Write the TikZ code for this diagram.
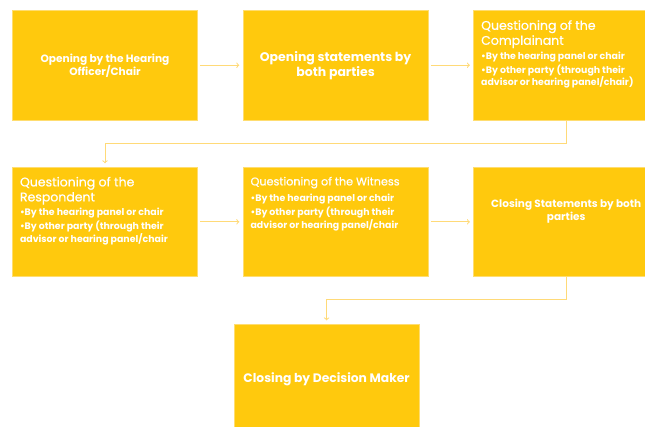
\documentclass[tikz,border=0pt]{standalone}
\usepackage{fontspec}
\newfontfamily\poppins{Poppins}
\newfontfamily\poppinshead[FakeBold=0.6]{Poppins}
\usepackage{tikz}
\usetikzlibrary{positioning}

\definecolor{boxgold}{HTML}{FFC90D}
\definecolor{boxedge}{HTML}{FFDD70}
\definecolor{flowline}{HTML}{FFDA78}

\newcommand{\hearitem}[1]{\par\vspace{2.5pt}\hangindent=3.5pt\hangafter=1\noindent\textbullet#1}
\newcommand{\hearhead}[1]{{\poppinshead\fontsize{12.5}{15}\selectfont #1\par}\vspace{0.5pt}\fontsize{9.4}{11.5}\selectfont\bfseries}

\begin{document}
\begin{tikzpicture}[x=1pt,y=1pt,node distance=45pt,
    stepbox/.style={rectangle,draw=boxedge,line width=0.6pt,fill=boxgold,text=white,
      minimum width=185pt,minimum height=109.5pt,inner sep=0pt,font=\poppins},
    flow/.style={draw=flowline,line width=1pt,-to,shorten <=2.5pt,shorten >=3.5pt}]

  \useasboundingbox (0,0) rectangle (645,-427);
  \clip (0,0) rectangle (645,-427);

  %first row%
  \node[stepbox,align=center,font=\poppins\bfseries\fontsize{10.6}{13}\selectfont] (open) at (105,-65.25)
    {Opening by the Hearing\\Officer/Chair};
  \node[stepbox,align=center,font=\poppins\bfseries\fontsize{12.5}{15}\selectfont] (stmt) [right=of open]
    {Opening statements by\\both parties};
  \node[stepbox] (compl) [right=of stmt]
    {\parbox[c][90pt][t]{170pt}{\raggedright\hearhead{Questioning of the\\Complainant}
     \hearitem{By the hearing panel or chair}
     \hearitem{By other party (through their\\advisor or hearing panel/chair)}}};

  %second row%
  \node[stepbox] (resp) [below=46.5pt of open]
    {\parbox[c][90pt][t]{170pt}{\raggedright\hearhead{Questioning of the\\Respondent}
     \hearitem{By the hearing panel or chair}
     \hearitem{By other party (through their\\advisor or hearing panel/chair}}};
  \node[stepbox] (wit) [right=of resp]
    {\parbox[c][90pt][t]{170pt}{\raggedright{\poppinshead\fontsize{11.2}{15}\selectfont Questioning of the Witness\par}\vspace{2.5pt}\fontsize{9.4}{11.5}\selectfont\bfseries
     \hearitem{By the hearing panel or chair}
     \hearitem{By other party (through their\\advisor or hearing panel/chair}}};
  \node[stepbox] (close) [right=of wit]
    {\parbox[c][90pt][t]{170pt}{\centering\vspace{22pt}\bfseries\fontsize{10.5}{13}\selectfont
     Closing Statements by both\\parties}};

  %last row%
  \node[stepbox,align=center,font=\poppins\bfseries\fontsize{12.3}{15}\selectfont] (dec) [below=47pt of wit,xshift=-9pt]
    {Closing by Decision Maker};

  \path[flow]
    (open) edge (stmt)
    (stmt) edge (compl)
    (resp) edge (wit)
    (wit) edge (close);
  \draw[flow,shorten <=0pt] (compl.south) -- ++(0,-23) -| (resp.north);
  \draw[flow,shorten <=0pt] (close.south) -- ++(0,-23) -| (dec.north);
\end{tikzpicture}
\end{document}
